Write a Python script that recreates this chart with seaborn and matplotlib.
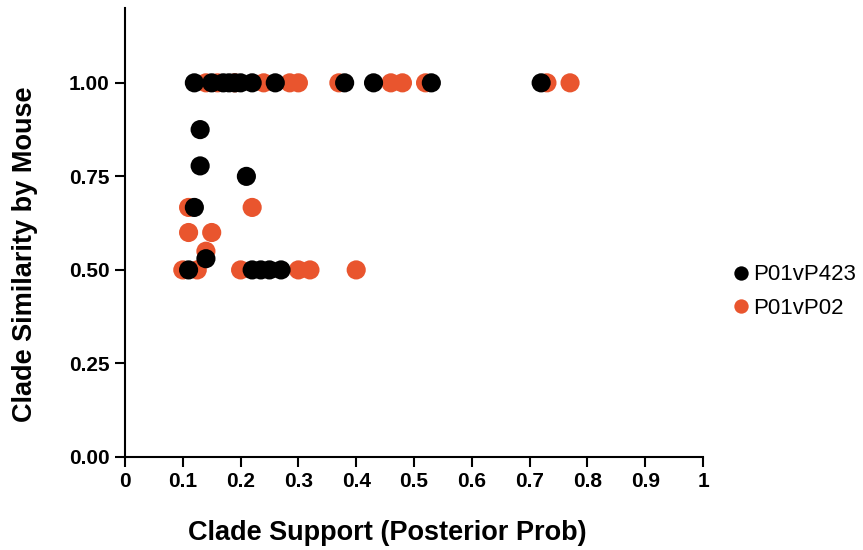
import matplotlib
matplotlib.use("Agg")
import matplotlib.pyplot as plt
import seaborn as sns
import pandas as pd

# Series P01vP423 (black)
x_p423 = [0.12, 0.15, 0.17, 0.18, 0.19, 0.20, 0.22, 0.26, 0.38, 0.43, 0.53, 0.72,
          0.13, 0.13, 0.21, 0.12, 0.14, 0.11, 0.22, 0.235, 0.25, 0.27]
y_p423 = [1.0, 1.0, 1.0, 1.0, 1.0, 1.0, 1.0, 1.0, 1.0, 1.0, 1.0, 1.0,
          0.875, 0.778, 0.75, 0.667, 0.53, 0.5, 0.5, 0.5, 0.5, 0.5]

# Series P01vP02 (orange)
x_p02 = [0.14, 0.16, 0.19, 0.24, 0.285, 0.30, 0.37, 0.46, 0.48, 0.52, 0.73, 0.77,
         0.11, 0.22, 0.11, 0.15, 0.14, 0.10, 0.125, 0.20, 0.30, 0.32, 0.40]
y_p02 = [1.0, 1.0, 1.0, 1.0, 1.0, 1.0, 1.0, 1.0, 1.0, 1.0, 1.0, 1.0,
         0.667, 0.667, 0.6, 0.6, 0.55, 0.5, 0.5, 0.5, 0.5, 0.5, 0.5]

series_names = ["P01vP423", "P01vP02"]
colors = {"P01vP423": "#000000", "P01vP02": "#E9552E"}
x_ticks = [0, 0.1, 0.2, 0.3, 0.4, 0.5, 0.6, 0.7, 0.8, 0.9, 1.0]
x_ticklabels = ["0", "0.1", "0.2", "0.3", "0.4", "0.5", "0.6", "0.7", "0.8", "0.9", "1"]
y_ticks = [0.0, 0.25, 0.5, 0.75, 1.0]
y_ticklabels = ["0.00", "0.25", "0.50", "0.75", "1.00"]

# orange first so black is drawn on top
df = pd.concat([
    pd.DataFrame({"x": x_p02, "y": y_p02, "series": "P01vP02"}),
    pd.DataFrame({"x": x_p423, "y": y_p423, "series": "P01vP423"}),
], ignore_index=True)

sns.set_style("white")
plt.rcParams["font.family"] = ["Liberation Sans", "DejaVu Sans"]

fig = plt.figure(figsize=(8.63, 5.5), dpi=100)
ax = fig.add_axes([125/863, 1-457/550, (703-125)/863, (457-8)/550])

sns.scatterplot(data=df, x="x", y="y", hue="series", hue_order=series_names,
                palette=colors, s=190, linewidth=0, alpha=1.0, ax=ax, legend=True)

ax.set_xlim(0, 1)
ax.set_ylim(0, 1.2)
ax.set_xticks(x_ticks)
ax.set_xticklabels(x_ticklabels)
ax.set_yticks(y_ticks)
ax.set_yticklabels(y_ticklabels)
ax.tick_params(axis="both", direction="out", length=7, width=1.5, color="black",
               labelcolor="black", labelsize=15, bottom=True, left=True, pad=4)
for lab in ax.get_xticklabels() + ax.get_yticklabels():
    lab.set_fontweight("bold")
    lab.set_fontsize(15)
for side in ["top", "right"]:
    ax.spines[side].set_visible(False)
for side in ["left", "bottom"]:
    ax.spines[side].set_color("black")
    ax.spines[side].set_linewidth(1.5)

ax.set_xlabel("Clade Support (Posterior Prob)", fontweight="bold", fontsize=19.5,
              color="black")
ax.set_ylabel("Clade Similarity by Mouse", fontweight="bold", fontsize=19.5,
              color="black")
ax.xaxis.set_label_coords(0.453, -0.140)
ax.yaxis.set_label_coords(-0.151, 0.452)

leg = ax.legend(loc="center left", bbox_to_anchor=(1.012, 0.368), frameon=False,
                fontsize=16, handlelength=1.0, handletextpad=0.05,
                labelspacing=0.58, markerscale=0.75)
for t in leg.get_texts():
    t.set_color("black")

fig.savefig("out.png", dpi=100)
